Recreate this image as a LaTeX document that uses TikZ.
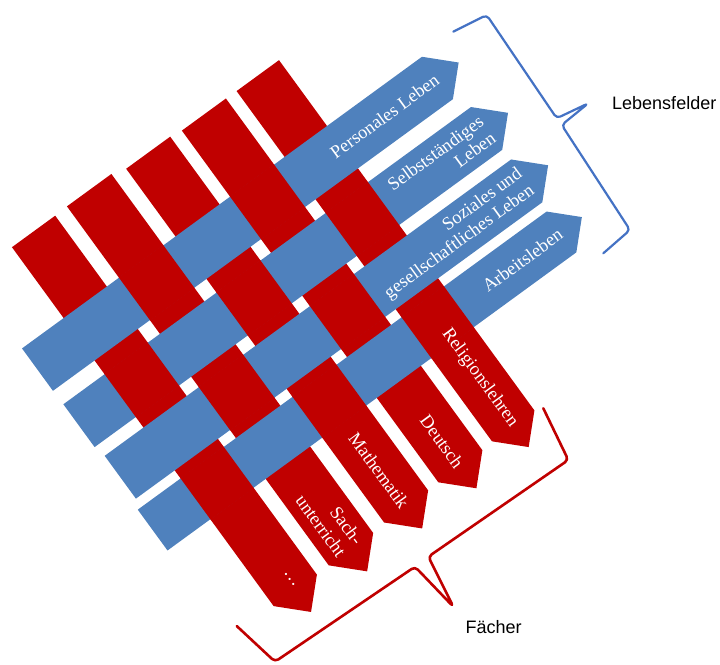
\documentclass[tikz,border=0pt]{standalone}
\usepackage{fontspec}
\setmainfont{Liberation Serif}
\newfontfamily\labelfont{Liberation Sans}
\definecolor{stripred}{HTML}{C00000}
\definecolor{stripblue}{HTML}{4F81BD}
\definecolor{braceblue}{HTML}{4472C4}
% u1 u2 top shoulder
\newcommand\redstrip[4]{\fill[stripred] (#1,-#3) -- (#2,-#3) -- (#2,-#4) -- ({((#1)+(#2))/2},{-(#4)-((#2)-(#1))/2}) -- (#1,-#4) -- cycle;}
% w1 w2 left shoulder
\newcommand\bluestrip[4]{\fill[stripblue] (#3,-#1) -- (#4,-#1) -- ({(#4)+((#2)-(#1))/2},{-((#1)+(#2))/2}) -- (#4,-#2) -- (#3,-#2) -- cycle;}
% u1 u2 w1 w2
\newcommand\redcell[4]{\fill[stripred] (#1,{-(#3)+0.5}) rectangle (#2,{-(#4)-0.5});}
\begin{document}
\begin{tikzpicture}[x=1pt,y=1pt,
  btext/.style={rotate=36.1,anchor=east,align=right,text=white,inner sep=0pt,font=\fontsize{18.4}{20.5}\selectfont},
  rtext/.style={rotate=-53.9,anchor=east,align=right,text=white,inner sep=0pt,font=\fontsize{18.4}{21}\selectfont},
  bracestyle/.style={rounded corners=4pt,line join=round,line cap=round},
  lbl/.style={anchor=base west,inner sep=0pt,text=black,font=\labelfont\fontsize{18}{20}\selectfont}]
\useasboundingbox (0,0) rectangle (720,664);
\begin{scope}[shift={(0,664)},rotate=36.1]
  % red strips (Faecher)
  \redstrip{-136}{-82.5}{206.8}{651}
  \redstrip{-67.5}{-12.5}{206.2}{650.5}
  \redstrip{2.5}{57}{210.7}{648.5}
  \redstrip{70}{124.5}{212.7}{648}
  \redstrip{137.5}{190}{213}{646.5}
  % blue strips (Lebensfelder)
  \bluestrip{294.5}{347}{-187.5}{307.5}
  \bluestrip{364}{417}{-187}{317.5}
  \bluestrip{430}{483}{-184}{319}
  \bluestrip{493}{543.5}{-189}{317}
  % crossings where red lies on top
  \redcell{-136}{-82.5}{364}{417}
  \redcell{-136}{-82.5}{493}{543.5}
  \redcell{-67.5}{-12.5}{294.5}{347}
  \redcell{-67.5}{-12.5}{430}{483}
  \redcell{2.5}{57}{364}{417}
  \redcell{2.5}{57}{493}{543.5}
  \redcell{70}{124.5}{294.5}{347}
  \redcell{70}{124.5}{430}{483}
  \redcell{137.5}{190}{364}{417}
  \redcell{137.5}{190}{493}{543.5}
  % texts on blue strips
  \node[btext] (t1) at (307,-320.5) {Personales Leben};
  \node[btext] (t2) at (318.5,-390.5) {Selbstständiges\\Leben};
  \node[btext] (t3) at (319,-456.5) {Soziales und\\gesellschaftliches Leben};
  \node[btext] (t4) at (316,-518) {Arbeitsleben};
  % texts on red strips
  \node[rtext] (r1) at (-107,-648) {…};
  \node[rtext] (r2) at (-40,-650) {Sach-\\unterricht};
  \node[rtext] (r3) at (29,-648) {Mathematik};
  \node[rtext] (r4) at (97,-647.5) {Deutsch};
  \node[rtext] (r5) at (165,-646.5) {Religionslehren};
\end{scope}
% brace Lebensfelder
\coordinate (lb1) at (453.3,632.3);
\coordinate (lb2) at (486.7,649);
\coordinate (lb3) at (556.7,545.7);
\coordinate (lb4) at (588.3,560.7);
\coordinate (lb5) at (561.7,539);
\coordinate (lb6) at (630,434);
\coordinate (lb7) at (603.3,410.7);
\draw[bracestyle,braceblue,line width=2.2pt] (lb1) -- (lb2) -- (lb3) -- (lb4) -- (lb5) -- (lb6) -- (lb7);
% brace Faecher
\coordinate (fb1) at (543.3,255.7);
\coordinate (fb2) at (568.3,204);
\coordinate (fb3) at (428.3,107.3);
\coordinate (fb4) at (453.3,57.3);
\coordinate (fb5) at (415,97.3);
\coordinate (fb6) at (275,2.3);
\coordinate (fb7) at (236.7,38);
\draw[bracestyle,stripred,line width=2.6pt] (fb1) -- (fb2) -- (fb3) -- (fb4) -- (fb5) -- (fb6) -- (fb7);
% labels
\node[lbl] (lebensfelder) at (612,554) {Lebensfelder};
\node[lbl] (faecher) at (465.5,30.7) {Fächer};
\end{tikzpicture}
\end{document}
